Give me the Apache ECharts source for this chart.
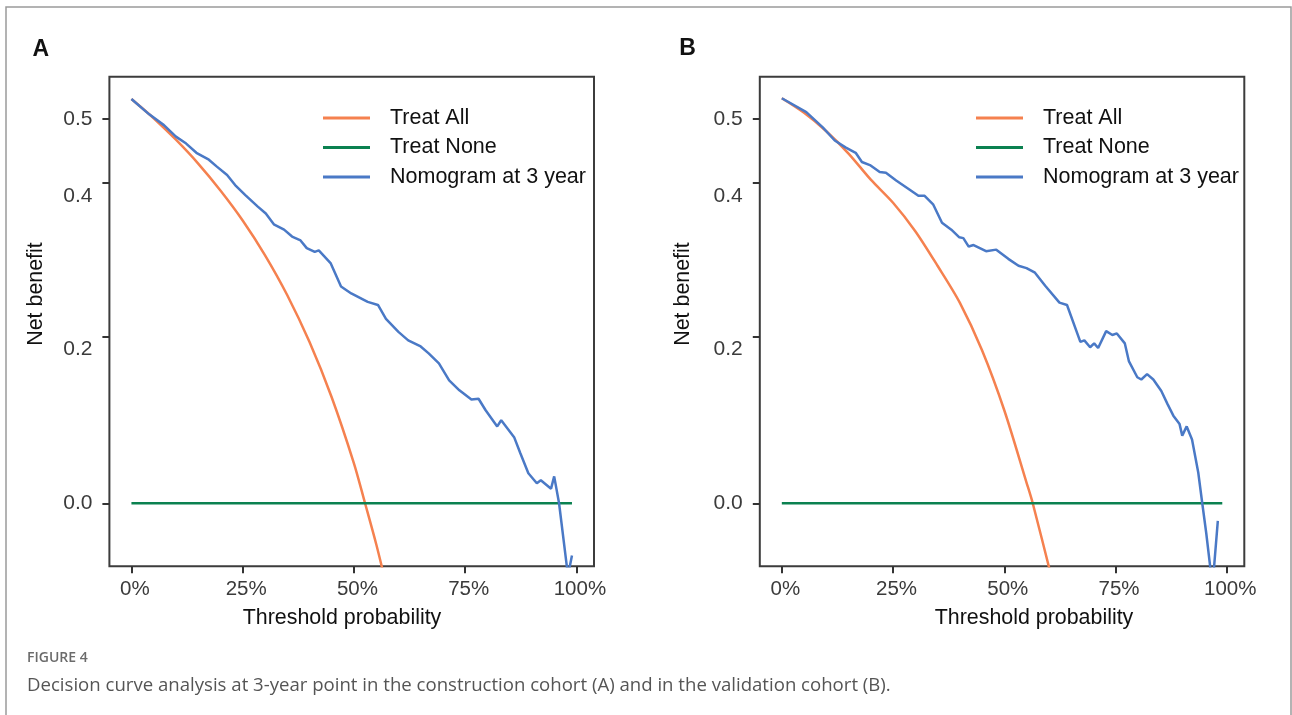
<!DOCTYPE html>
<html>
<head>
<meta charset="utf-8">
<title>Decision curve analysis</title>
<script src="https://cdn.jsdelivr.net/npm/echarts@6/dist/echarts.min.js"></script>
<style>
  html, body { margin: 0; padding: 0; background: #fff; }
  #chart { width: 1292px; height: 715px; }
</style>
</head>
<body>
<div id="chart"></div>
<script>
// values (threshold probability -> net benefit)
var treatAllXA = [0, 0.05, 0.10, 0.15, 0.20, 0.25, 0.30, 0.35, 0.40, 0.45, 0.50, 0.525, 0.55, 0.57];
var treatAllYA = [0.526, 0.501, 0.473, 0.442, 0.407, 0.368, 0.323, 0.271, 0.210, 0.138, 0.052, 0.000, -0.053, -0.100];
var treatNoneX = [0, 0.99];
var treatNoneY = [0, 0];
var nomogramXA = [0, 0.04, 0.073, 0.100, 0.123, 0.146, 0.174, 0.192, 0.215, 0.233, 0.256, 0.284, 0.302, 0.320,
    0.343, 0.361, 0.380, 0.394, 0.412, 0.421, 0.448, 0.471, 0.494, 0.531, 0.554, 0.572, 0.600, 0.622, 0.650,
    0.668, 0.691, 0.714, 0.737, 0.764, 0.780, 0.796, 0.822, 0.831, 0.860, 0.874, 0.892, 0.911, 0.920, 0.943,
    0.950, 0.961, 0.981, 0.990];
var nomogramYA = [0.526, 0.506, 0.492, 0.477, 0.468, 0.456, 0.447, 0.438, 0.427, 0.414, 0.401, 0.386, 0.377, 0.363,
    0.356, 0.347, 0.342, 0.332, 0.327, 0.329, 0.312, 0.282, 0.273, 0.262, 0.258, 0.240, 0.223, 0.212, 0.204,
    0.195, 0.182, 0.160, 0.147, 0.135, 0.136, 0.121, 0.100, 0.108, 0.086, 0.065, 0.039, 0.026, 0.030, 0.019,
    0.035, 0.000, -0.094, -0.068];

var treatAllXB = [0, 0.05, 0.10, 0.15, 0.20, 0.25, 0.30, 0.35, 0.40, 0.45, 0.50, 0.55, 0.564, 0.61];
var treatAllYB = [0.527, 0.508, 0.484, 0.455, 0.421, 0.391, 0.354, 0.309, 0.261, 0.199, 0.121, 0.027, 0.000, -0.105];
var nomogramXB = [0, 0.055, 0.092, 0.119, 0.143, 0.166, 0.180, 0.198, 0.220, 0.234, 0.257, 0.285, 0.307, 0.321,
    0.340, 0.360, 0.381, 0.399, 0.408, 0.420, 0.431, 0.459, 0.482, 0.509, 0.532, 0.550, 0.569, 0.592, 0.624,
    0.641, 0.671, 0.680, 0.693, 0.702, 0.711, 0.729, 0.743, 0.753, 0.771, 0.780, 0.799, 0.808, 0.821, 0.835,
    0.853, 0.867, 0.880, 0.894, 0.900, 0.910, 0.922, 0.936, 0.945, 0.954, 0.968, 0.980];
var nomogramYB = [0.527, 0.509, 0.489, 0.472, 0.463, 0.456, 0.444, 0.440, 0.431, 0.430, 0.420, 0.409, 0.400, 0.400,
    0.389, 0.365, 0.356, 0.346, 0.345, 0.334, 0.336, 0.328, 0.330, 0.318, 0.309, 0.306, 0.300, 0.283, 0.261,
    0.258, 0.210, 0.212, 0.203, 0.208, 0.202, 0.224, 0.219, 0.221, 0.208, 0.185, 0.164, 0.161, 0.168, 0.161,
    0.146, 0.129, 0.114, 0.103, 0.088, 0.100, 0.083, 0.040, 0.000, -0.039, -0.108, -0.023];

var seriesNames = ['Treat All', 'Treat None', 'Nomogram at 3 year'];
var xTicks = [0, 0.25, 0.5, 0.75, 1];
var yLabels = [0, 0.2, 0.4, 0.5];
var yTicks = [0, 0.217, 0.417, 0.5];

var colors = ['#F5814F', '#0B8150', '#4A79C6'];
var font = '"Liberation Sans", Arial, Helvetica, sans-serif';

function pairs(xs, ys) {
    return xs.map(function (x, i) { return [x, ys[i]]; });
}

function xAxisFor(gridIndex) {
    return {
        type: 'value', gridIndex: gridIndex, min: -0.0495, max: 1.0395,
        axisLine: { show: false, onZero: false },
        splitLine: { show: false },
        axisTick: { show: true, customValues: xTicks, length: 7, lineStyle: { color: '#333', width: 2 } },
        axisLabel: {
            customValues: xTicks, margin: 13, fontSize: 20.5, fontFamily: font, color: '#3b3b3b',
            padding: [0, 0, 0, 7],
            formatter: function (v) { return Math.round(v * 100) + '%'; }
        }
    };
}

function yAxisFor(gridIndex) {
    return {
        type: 'value', gridIndex: gridIndex, min: -0.082, max: 0.555,
        axisLine: { show: false, onZero: false },
        splitLine: { show: false },
        axisTick: { show: true, customValues: yTicks, length: 7, lineStyle: { color: '#333', width: 2 } },
        axisLabel: {
            customValues: yLabels, margin: 17, fontSize: 21, fontFamily: font, color: '#3b3b3b',
            formatter: function (v) { return v.toFixed(1); }
        }
    };
}

function lineSeries(name, data, idx, color, smooth) {
    return {
        name: name, type: 'line', xAxisIndex: idx, yAxisIndex: idx,
        data: data, symbol: 'none', showSymbol: false, smooth: smooth, clip: true,
        lineStyle: { color: color, width: 2.5 },
        itemStyle: { color: color },
        emphasis: { disabled: true }
    };
}

function legendAt(left) {
    return {
        left: left, top: 102, orient: 'vertical',
        icon: 'rect', itemWidth: 47, itemHeight: 3, itemGap: 7.5,
        data: seriesNames,
        selectedMode: false,
        textStyle: { fontSize: 21.5, fontFamily: font, color: '#111', lineHeight: 22, padding: [0, 0, 0, 15] }
    };
}

function label(text, x, y, size, opts) {
    opts = opts || {};
    return {
        type: 'text', x: x, y: y, rotation: opts.rotation || 0, silent: true,
        style: {
            text: text, x: 0, y: 0,
            font: (opts.weight || 'normal') + ' ' + size + 'px ' + (opts.family || font),
            fill: opts.color || '#111',
            textAlign: opts.align || 'center', textVerticalAlign: 'middle'
        }
    };
}

var chart = echarts.init(document.getElementById('chart'));

chart.setOption({
    animation: false,
    backgroundColor: '#fff',
    grid: [
        { left: 109.4, top: 76.7, width: 484.6, height: 489.6, show: true, borderColor: '#3c3c3c', borderWidth: 2 },
        { left: 759.8, top: 76.7, width: 484.5, height: 489.6, show: true, borderColor: '#3c3c3c', borderWidth: 2 }
    ],
    xAxis: [xAxisFor(0), xAxisFor(1)],
    yAxis: [yAxisFor(0), yAxisFor(1)],
    legend: [legendAt(318), legendAt(971)],
    series: [
        lineSeries('Treat All', pairs(treatAllXA, treatAllYA), 0, colors[0], 0.3),
        lineSeries('Treat None', pairs(treatNoneX, treatNoneY), 0, colors[1], false),
        lineSeries('Nomogram at 3 year', pairs(nomogramXA, nomogramYA), 0, colors[2], false),
        lineSeries('Treat All', pairs(treatAllXB, treatAllYB), 1, colors[0], 0.3),
        lineSeries('Treat None', pairs(treatNoneX, treatNoneY), 1, colors[1], false),
        lineSeries('Nomogram at 3 year', pairs(nomogramXB, nomogramYB), 1, colors[2], false)
    ],
    graphic: [
        {
            type: 'polyline', silent: true,
            shape: { points: [[6, 715], [6, 7], [1291, 7], [1291, 715]] },
            style: { stroke: '#9a9a9a', lineWidth: 1.5, fill: null }
        },
        label('A', 40.8, 49.5, 23, { weight: 'bold' }),
        label('B', 687.5, 49, 23, { weight: 'bold' }),
        label('Net benefit', 36, 294, 21.4, { rotation: Math.PI / 2 }),
        label('Net benefit', 683.5, 294, 21.4, { rotation: Math.PI / 2 }),
        label('Threshold probability', 342, 618, 21.4),
        label('Threshold probability', 1034, 618, 21.4),
        label('FIGURE 4', 27, 658, 14, { weight: '600', family: '"Open Sans", sans-serif', color: '#6b6b6b', align: 'left' }),
        label('Decision curve analysis at 3-year point in the construction cohort (A) and in the validation cohort (B).',
            27, 686, 18.6, { family: '"Open Sans", sans-serif', color: '#555', align: 'left' })
    ]
});
</script>
</body>
</html>
